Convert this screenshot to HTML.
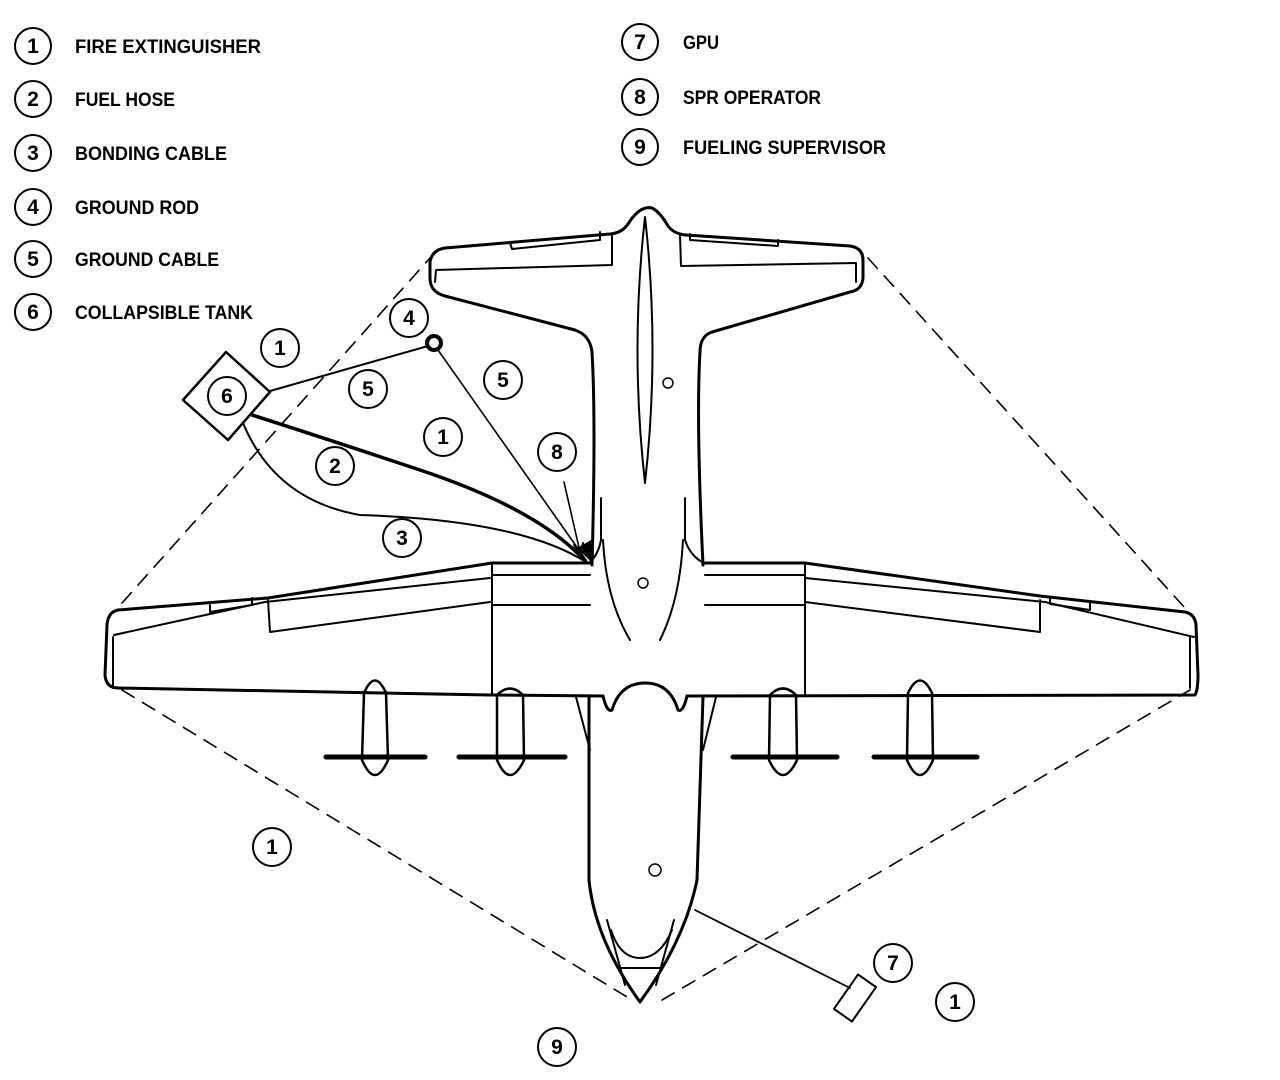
<!DOCTYPE html>
<html><head><meta charset="utf-8"><style>html,body{margin:0;padding:0;background:#fff}svg{display:block}</style></head>
<body>
<svg width="1280" height="1080" viewBox="0 0 1280 1080" xmlns="http://www.w3.org/2000/svg">
<g fill="none" stroke="#000" stroke-linecap="round" stroke-linejoin="round">
<g stroke-width="1.6" stroke-dasharray="14,10">
<path d="M122,603 L430,258"/>
<path d="M868,258 L1185,608"/>
<path d="M122,690 L632,1000"/>
<path d="M662,1000 L1190,690"/>
</g>
<g stroke-width="3">
<path d="M592,352 Q590,335 575,330 L445,296 Q430,292 430,278 L430,262 Q432,250 445,248 L610,234 Q622,233 628,224 Q640,205 652,208 Q660,212 668,226 Q674,234 686,235 L850,246 Q863,248 863,260 L863,278 Q862,290 850,292 L712,332 Q700,336 700,352"/>
<path d="M592,352 Q596,420 592,565"/>
<path d="M700,352 Q696,420 703,565"/>
</g>
<g stroke-width="2">
<path d="M435,282 L436,270 L612,265 L612,236"/>
<path d="M510,243 L512,249 L600,240 L600,232"/>
<path d="M680,235 L681,266 L856,263 L856,282"/>
<path d="M690,234 L690,240 L778,246 L778,240"/>
<path d="M645,217 Q630,350 645,483 Q660,350 645,217 Z"/>
<path d="M601,498 L601,540 Q598,555 590,562"/>
<path d="M685,498 L685,540 Q690,555 702,562"/>
<path d="M603,540 Q606,600 630,640"/>
<path d="M683,540 Q680,600 660,640"/>
</g>
<circle cx="668" cy="383" r="5" stroke-width="1.5"/>
<circle cx="643" cy="583" r="5" stroke-width="1.5"/>
<circle cx="655" cy="870" r="6" stroke-width="1.5"/>
<g stroke-width="3">
<path d="M590,563 L492,563 L268,598 L118,610 Q108,612 107,625 L105,675 Q106,688 118,688 L490,695 L603,696"/>
<path d="M603,696 Q607,713 612,710 Q620,683 645,683 Q670,683 678,710 Q683,713 687,696"/>
<path d="M687,696 L1195,695 Q1198,690 1198,675 L1196,625 Q1195,614 1185,612 L1040,596 L805,563 L705,563"/>
<path d="M589,697 L589,880 Q595,940 640,1002 Q685,940 697,880 L703,697"/>
</g>
<g stroke-width="2">
<path d="M492,563 L492,695"/>
<path d="M492,575 L590,575"/><path d="M492,605 L590,605"/>
<path d="M805,563 L805,695"/>
<path d="M705,575 L805,575"/><path d="M705,605 L805,605"/>
<path d="M114,635 L265,602 L490,578"/>
<path d="M268,600 L270,632 L490,602"/>
<path d="M113,637 L113,688"/>
<path d="M1190,637 L1190,688"/>
<path d="M1194,637 L1045,602 L805,578"/>
<path d="M1040,600 L1040,632 L805,602"/>
<path d="M210,605 L210,612 L252,605 L252,598"/>
<path d="M1050,598 L1050,604 L1090,610 L1090,603"/>
<path d="M576,697 L590,750"/><path d="M716,697 L703,750"/>
<path d="M607,920 L625,985 M674,920 L656,985"/>
<path d="M620,968 L660,968"/>
<path d="M611,930 Q620,958 640,958 Q660,958 672,930"/>
</g>
<g stroke-width="2.5">
<path d="M364,693 Q375,668 386,693 L388,760 Q375,790 362,760 Z"/>
<path d="M497,695 Q510,682 523,695 L524,760 Q510,790 497,760 Z"/>
<path d="M770,695 Q783,682 796,695 L797,760 Q783,790 769,760 Z"/>
<path d="M908,693 Q920,668 932,693 L933,760 Q920,790 907,760 Z"/>
</g>
<g stroke-width="5">
<path d="M326,757 L425,757"/><path d="M459,757 L565,757"/>
<path d="M733,757 L837,757"/><path d="M874,757 L977,757"/>
</g>
<path d="M183,400 L226,352 L270,392 L228,440 Z" stroke-width="2.5"/>
<circle cx="434" cy="343" r="7" stroke-width="4"/>
<path d="M270,391 L428,346" stroke-width="2"/>
<path d="M438,350 L586,560" stroke-width="1.6"/>
<path d="M252,415 Q330,440 420,470 Q540,510 586,562" stroke-width="3.5"/>
<path d="M243,423 Q275,500 360,515 Q520,520 586,562" stroke-width="2"/>
<path d="M564,482 L580,552" stroke-width="1.6"/>
<path d="M574,545 L580,555 L583,543" stroke-width="2"/>
<path d="M578,548 L592,562 L592,540 Z" fill="#000" stroke-width="1"/>
<path d="M695,910 L850,988" stroke-width="1.8"/>
<rect x="-11" y="-21" width="22" height="42" transform="translate(855,998) rotate(35)" stroke-width="2"/>
</g>
<g font-family="Liberation Sans, sans-serif" font-weight="bold" font-size="19">
<g fill="none" stroke="#000" stroke-width="2">
<circle cx="33" cy="46" r="18"/><circle cx="33" cy="99" r="18"/><circle cx="33" cy="153" r="18"/>
<circle cx="33" cy="207" r="18"/><circle cx="33" cy="259" r="18"/><circle cx="33" cy="312" r="18"/>
<circle cx="640" cy="42" r="18"/><circle cx="640" cy="97" r="18"/><circle cx="640" cy="147" r="18"/>
<circle cx="280" cy="348" r="19"/><circle cx="227" cy="396" r="19"/><circle cx="368" cy="389" r="19"/>
<circle cx="409" cy="318" r="19"/><circle cx="503" cy="380" r="19"/><circle cx="443" cy="437" r="19"/>
<circle cx="557" cy="452" r="19"/><circle cx="335" cy="466" r="19"/><circle cx="402" cy="538" r="19"/>
<circle cx="272" cy="847" r="19"/><circle cx="893" cy="963" r="19"/><circle cx="955" cy="1002" r="19"/>
<circle cx="557" cy="1047" r="19"/>
</g>
<g text-anchor="middle" font-size="21">
<text x="33" y="53">1</text><text x="33" y="106">2</text><text x="33" y="160">3</text>
<text x="33" y="214">4</text><text x="33" y="266">5</text><text x="33" y="319">6</text>
<text x="640" y="49">7</text><text x="640" y="104">8</text><text x="640" y="154">9</text>
<text x="280" y="355">1</text><text x="227" y="403">6</text><text x="368" y="396">5</text>
<text x="409" y="325">4</text><text x="503" y="387">5</text><text x="443" y="444">1</text>
<text x="557" y="459">8</text><text x="335" y="473">2</text><text x="402" y="545">3</text>
<text x="272" y="854">1</text><text x="893" y="970">7</text><text x="955" y="1009">1</text>
<text x="557" y="1054">9</text>
</g>
<text x="75" y="53" textLength="186" lengthAdjust="spacingAndGlyphs">FIRE EXTINGUISHER</text>
<text x="75" y="106" textLength="100" lengthAdjust="spacingAndGlyphs">FUEL HOSE</text>
<text x="75" y="160" textLength="152" lengthAdjust="spacingAndGlyphs">BONDING CABLE</text>
<text x="75" y="214" textLength="124" lengthAdjust="spacingAndGlyphs">GROUND ROD</text>
<text x="75" y="266" textLength="144" lengthAdjust="spacingAndGlyphs">GROUND CABLE</text>
<text x="75" y="319" textLength="178" lengthAdjust="spacingAndGlyphs">COLLAPSIBLE TANK</text>
<text x="683" y="49" textLength="36" lengthAdjust="spacingAndGlyphs">GPU</text>
<text x="683" y="104" textLength="138" lengthAdjust="spacingAndGlyphs">SPR OPERATOR</text>
<text x="683" y="154" textLength="203" lengthAdjust="spacingAndGlyphs">FUELING SUPERVISOR</text>
</g>
</svg>
</body></html>
